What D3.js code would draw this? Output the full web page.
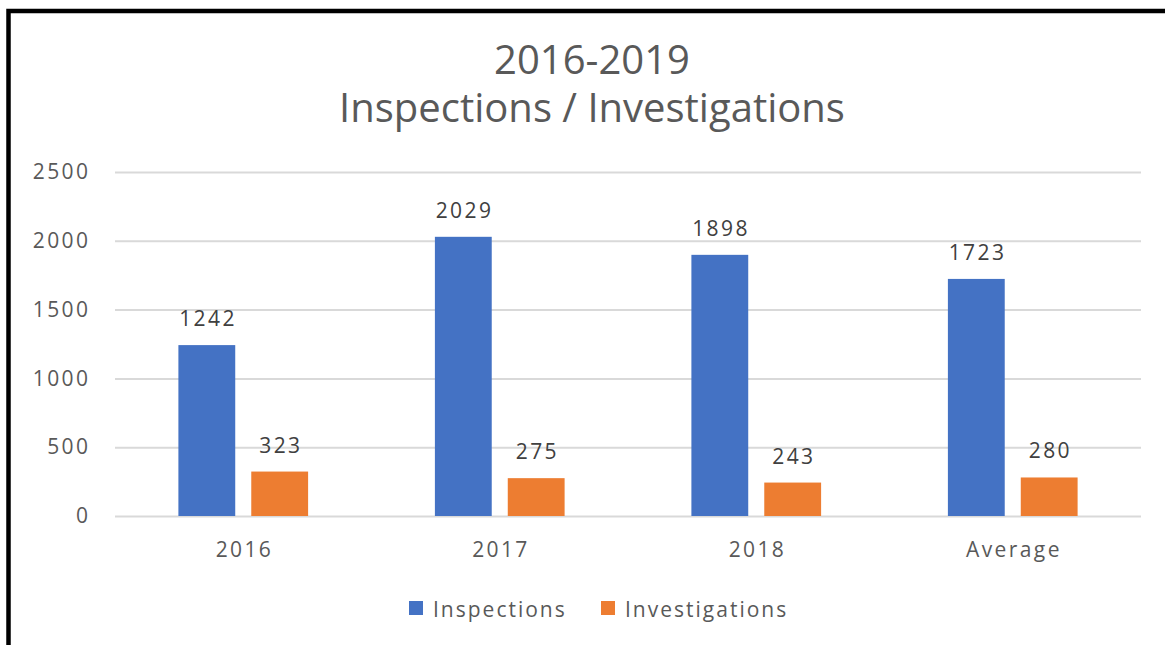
<!DOCTYPE html>
<html>
<head>
<meta charset="utf-8">
<script src="https://cdn.jsdelivr.net/npm/d3@7"></script>
<style>
  body { margin: 0; background: #fff; }
  svg text { font-family: "Open Sans", sans-serif; }
</style>
</head>
<body>
<svg id="chart"></svg>
<script>
const categories = ['2016', '2017', '2018', 'Average'];
const seriesNames = ['Inspections', 'Investigations'];
const inspections = [1242, 2029, 1898, 1723];
const investigations = [323, 275, 243, 280];
const yTicks = [0, 500, 1000, 1500, 2000, 2500];
const titleLines = ['2016-2019', 'Inspections / Investigations'];

const width = 1165, height = 645;
const colors = ['#4472C4', '#ED7D31'];
const spacing = 2.4; // the source font is wide-set

const svg = d3.select('svg#chart')
  .attr('width', width)
  .attr('height', height);

const margin = { top: 172, right: 24, bottom: 129, left: 115 };
const innerWidth = width - margin.left - margin.right;
const innerHeight = height - margin.top - margin.bottom;

const data = categories.map((c, i) => ({
  cat: c,
  values: [inspections[i], investigations[i]]
}));

const x0 = d3.scaleBand()
  .domain(categories)
  .range([0, innerWidth]);

const x1 = d3.scaleBand()
  .domain(seriesNames)
  .range([0, x0.bandwidth()])
  .paddingInner(0.22)
  .paddingOuter(0.87);

const y = d3.scaleLinear()
  .domain([0, 2500])
  .range([innerHeight, 0]);

const color = d3.scaleOrdinal(seriesNames, colors);

// outer frame (black, partly cut off)
svg.append('path')
  .attr('d', `M8.5,${height} V11 H${width}`)
  .attr('fill', 'none')
  .attr('stroke', '#000')
  .attr('stroke-width', 4.5);

// title
svg.append('g').selectAll('text')
  .data(titleLines)
  .join('text')
  .attr('x', 592)
  .attr('y', (d, i) => 74 + i * 48)
  .attr('text-anchor', 'middle')
  .attr('fill', '#595959')
  .attr('font-size', 40)
  .text(d => d);

const g = svg.append('g')
  .attr('transform', `translate(${margin.left},${margin.top})`);

const yAxis = d3.axisLeft(y)
  .tickValues(yTicks)
  .tickFormat(d3.format('d'))
  .tickSize(-innerWidth)
  .tickPadding(27 - spacing);

const yAxisG = g.append('g').call(yAxis);
yAxisG.select('.domain').remove();
yAxisG.selectAll('.tick line')
  .attr('stroke', '#d9d9d9')
  .attr('stroke-width', 2);
yAxisG.selectAll('.tick text')
  .attr('fill', '#595959')
  .attr('font-size', 21)
  .attr('letter-spacing', spacing)
  .attr('font-family', '"Open Sans", sans-serif');

const xAxis = d3.axisBottom(x0)
  .tickSize(0)
  .tickPadding(26);

const xAxisG = g.append('g')
  .attr('transform', `translate(0,${innerHeight})`)
  .call(xAxis);
xAxisG.select('.domain').remove();
xAxisG.selectAll('.tick text')
  .attr('fill', '#595959')
  .attr('font-size', 21)
  .attr('letter-spacing', spacing)
  .attr('dx', spacing / 2)
  .attr('font-family', '"Open Sans", sans-serif');

const groups = g.selectAll('.group')
  .data(data)
  .join('g')
  .attr('class', 'group')
  .attr('transform', d => `translate(${x0(d.cat)},0)`);

const bars = groups.selectAll('g.bar')
  .data(d => d.values.map((v, i) => ({ key: seriesNames[i], value: v })))
  .join('g')
  .attr('class', 'bar');

bars.append('rect')
  .attr('x', d => x1(d.key))
  .attr('y', d => y(d.value))
  .attr('width', x1.bandwidth())
  .attr('height', d => innerHeight - y(d.value))
  .attr('fill', d => color(d.key));

bars.append('text')
  .attr('x', d => x1(d.key) + x1.bandwidth() / 2)
  .attr('y', d => y(d.value) - 19)
  .attr('dx', spacing / 2)
  .attr('text-anchor', 'middle')
  .attr('fill', '#404040')
  .attr('font-size', 21)
  .attr('letter-spacing', spacing)
  .text(d => d.value);

// legend
const legendX = [409, 601];
const legend = svg.append('g').selectAll('g')
  .data(seriesNames)
  .join('g')
  .attr('transform', (d, i) => `translate(${legendX[i]},601)`);

legend.append('rect')
  .attr('width', 14)
  .attr('height', 14)
  .attr('fill', d => color(d));

legend.append('text')
  .attr('x', 24)
  .attr('y', 16)
  .attr('fill', '#595959')
  .attr('font-size', 21)
  .attr('letter-spacing', 2)
  .text(d => d);
</script>
</body>
</html>
